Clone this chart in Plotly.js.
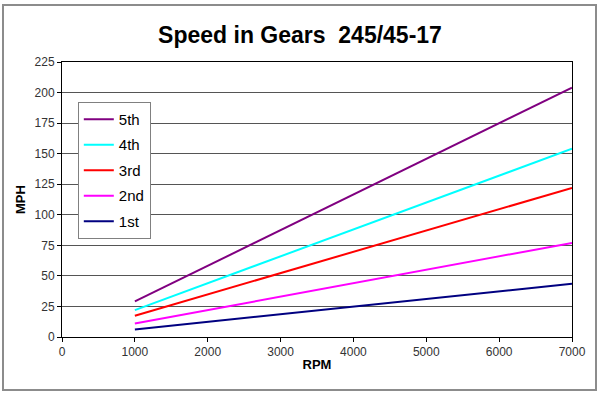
<!DOCTYPE html>
<html>
<head>
<meta charset="utf-8">
<script src="https://cdn.plot.ly/plotly-3.0.1.min.js"></script>
<style>
html,body{margin:0;padding:0;background:#fff;}
#wrap{position:relative;width:600px;height:394px;}
#chart{width:600px;height:394px;}
#frame{position:absolute;left:2px;top:4px;width:591px;height:383px;border:2px solid #8c8c8c;pointer-events:none;}
</style>
</head>
<body>
<div id="wrap"><div id="chart"></div><div id="frame"></div></div>
<script>
const rpm = [1000, 2000, 3000, 4000, 5000, 6000, 7000];
const gear1 = [6.2, 12.4, 18.6, 24.9, 31.1, 37.3, 43.5];
const gear2 = [11.0, 22.0, 33.0, 44.0, 55.0, 66.0, 77.0];
const gear3 = [17.4, 34.9, 52.3, 69.7, 87.1, 104.6, 122.0];
const gear4 = [22.0, 44.0, 66.0, 88.0, 110.0, 132.0, 154.0];
const gear5 = [29.1, 58.3, 87.4, 116.6, 145.7, 174.9, 204.0];
const names = ["1st", "2nd", "3rd", "4th", "5th"];
const colors = ["#000080", "#ff00ff", "#ff0000", "#00ffff", "#800080"];
const series = [gear1, gear2, gear3, gear4, gear5];
const xTicks = [0, 1000, 2000, 3000, 4000, 5000, 6000, 7000];
const yTicks = [0, 25, 50, 75, 100, 125, 150, 175, 200, 225];

const traces = series.map((s, i) => ({
  x: rpm, y: s, type: "scatter", mode: "lines", name: names[i],
  legendgroup: "g" + i, legendrank: 1000 - i,
  line: {color: colors[i], width: 2}
}));

const layout = {
  width: 600, height: 394,
  margin: {l: 62, r: 28, t: 62, b: 57},
  paper_bgcolor: "#fff", plot_bgcolor: "#fff",
  font: {family: "Arial, Liberation Sans, sans-serif", color: "#000"},
  title: {text: "Speed in Gears  245/45-17", font: {size: 23, family: "Arial, Liberation Sans, sans-serif", weight: "bold"}, x: 0.5, xanchor: "center", y: 0.912, yanchor: "middle"},
  xaxis: {
    range: [0, 7000], tickvals: xTicks, ticktext: xTicks.map(String),
    showgrid: false, zeroline: false,
    showline: true, linecolor: "#000", linewidth: 1, mirror: true,
    ticks: "outside", ticklen: 4, tickcolor: "#000",
    tickfont: {size: 12, color: "#333"},
    title: {text: "RPM", font: {size: 13, weight: "bold"}, standoff: 1}
  },
  yaxis: {
    range: [0, 225], tickvals: yTicks, ticktext: yTicks.map(String),
    showgrid: true, gridcolor: "#555", gridwidth: 1, zeroline: false,
    showline: true, linecolor: "#000", linewidth: 1, mirror: true,
    ticks: "outside", ticklen: 4, tickcolor: "#000",
    tickfont: {size: 12, color: "#333"},
    title: {text: "MPH", font: {size: 13, weight: "bold"}, standoff: 6}
  },
  showlegend: true,
  legend: {
    x: 0.031, y: 0.855, xanchor: "left", yanchor: "top",
    bgcolor: "#fff", bordercolor: "#808080", borderwidth: 1,
    traceorder: "grouped", tracegroupgap: 3, font: {size: 15},
    itemwidth: 30
  }
};

Plotly.newPlot("chart", traces, layout, {displayModeBar: false, staticPlot: true});
</script>
</body>
</html>
